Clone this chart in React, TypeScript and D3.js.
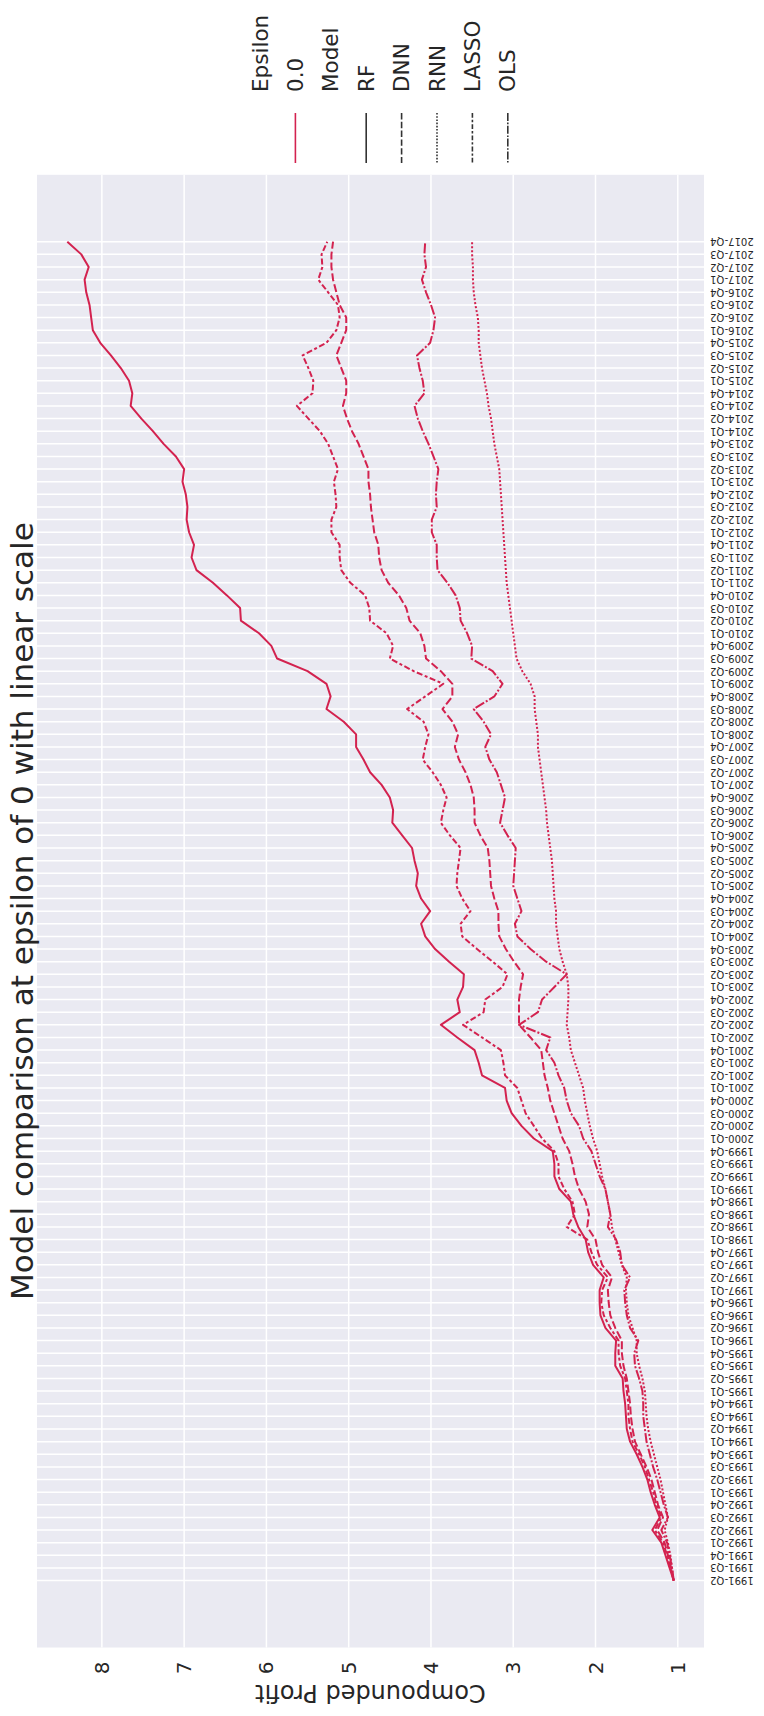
import * as d3 from "d3";

// quarters 1991-Q2 .. 2017-Q4
const years = d3.range(1991, 2018);
const qNames = ["Q1", "Q2", "Q3", "Q4"];
const quarters: string[] = years.flatMap((y) => qNames.map((q) => `${y}-${q}`)).slice(1);

const valueTicks = [1, 2, 3, 4, 5, 6, 7, 8];

const rf = [
  1.05, 1.1, 1.15, 1.2, 1.31, 1.22, 1.28, 1.33, 1.37, 1.43, 1.5, 1.58, 1.62, 1.63, 1.64, 1.66, 1.67, 1.76, 1.76, 1.75,
  1.88, 1.94, 1.95, 1.95, 1.9, 2.03, 2.09, 2.12, 2.21, 2.27, 2.3, 2.44, 2.5, 2.5, 2.52, 2.75, 2.9, 3.02, 3.08, 3.1,
  3.38, 3.42, 3.47, 3.68, 3.88, 3.65, 3.68, 3.61, 3.6, 3.78, 3.95, 4.07, 4.12, 4.01, 4.12, 4.18, 4.16, 4.2, 4.23, 4.35,
  4.47, 4.46, 4.5, 4.6, 4.74, 4.82, 4.91, 4.91, 5.06, 5.27, 5.22, 5.27, 5.5, 5.87, 5.94, 6.09, 6.31, 6.32, 6.48, 6.65,
  6.85, 6.91, 6.88, 6.94, 6.97, 6.96, 6.98, 7.02, 7.0, 7.1, 7.25, 7.38, 7.52, 7.65, 7.63, 7.67, 7.77, 7.89, 8.02, 8.11,
  8.13, 8.15, 8.19, 8.21, 8.16, 8.25, 8.42,
];
const dnn = [
  1.05, 1.08, 1.12, 1.16, 1.25, 1.18, 1.24, 1.28, 1.32, 1.38, 1.45, 1.52, 1.55, 1.57, 1.58, 1.6, 1.62, 1.66, 1.68, 1.68,
  1.76, 1.82, 1.84, 1.85, 1.8, 1.92, 1.97, 2.0, 2.1, 2.08, 2.12, 2.2, 2.25, 2.28, 2.32, 2.4, 2.45, 2.5, 2.55, 2.58,
  2.62, 2.64, 2.66, 2.79, 2.93, 2.93, 2.93, 2.91, 2.88, 2.99, 3.09, 3.17, 3.18, 3.18, 3.23, 3.27, 3.28, 3.29, 3.31, 3.4,
  3.47, 3.47, 3.48, 3.52, 3.58, 3.66, 3.71, 3.67, 3.74, 3.86, 3.74, 3.74, 3.88, 4.06, 4.08, 4.13, 4.26, 4.3, 4.39, 4.52,
  4.6, 4.63, 4.64, 4.69, 4.71, 4.73, 4.74, 4.76, 4.76, 4.82, 4.88, 4.96, 5.02, 5.07, 5.03, 5.03, 5.09, 5.15, 5.09, 5.03,
  5.03, 5.11, 5.15, 5.19, 5.21, 5.21, 5.19,
];
const rnn = [
  1.05, 1.07, 1.09, 1.12, 1.16, 1.12, 1.15, 1.18, 1.21, 1.25, 1.29, 1.33, 1.36, 1.38, 1.39, 1.4, 1.43, 1.47, 1.5, 1.5,
  1.55, 1.6, 1.62, 1.63, 1.62, 1.68, 1.72, 1.76, 1.8, 1.82, 1.85, 1.88, 1.92, 1.95, 1.98, 2.03, 2.07, 2.1, 2.13, 2.15,
  2.2, 2.25, 2.3, 2.32, 2.35, 2.34, 2.33, 2.33, 2.35, 2.4, 2.44, 2.46, 2.48, 2.48, 2.5, 2.51, 2.52, 2.53, 2.55, 2.57,
  2.59, 2.6, 2.62, 2.64, 2.66, 2.68, 2.7, 2.7, 2.72, 2.74, 2.74, 2.79, 2.89, 2.96, 2.98, 3.0, 3.02, 3.04, 3.06, 3.08,
  3.09, 3.1, 3.11, 3.12, 3.13, 3.14, 3.15, 3.16, 3.17, 3.2, 3.23, 3.25, 3.27, 3.3, 3.32, 3.35, 3.38, 3.4, 3.42, 3.42,
  3.43, 3.46, 3.48, 3.49, 3.49, 3.5, 3.5,
];
const lasso = [
  1.05, 1.09, 1.13, 1.18, 1.28, 1.2, 1.26, 1.3, 1.35, 1.4, 1.47, 1.55, 1.58, 1.6, 1.6, 1.62, 1.64, 1.7, 1.72, 1.72,
  1.82, 1.9, 1.93, 1.92, 1.85, 1.98, 2.05, 2.1, 2.35, 2.25, 2.28, 2.38, 2.45, 2.45, 2.5, 2.65, 2.75, 2.85, 2.9, 2.95,
  3.1, 3.12, 3.15, 3.38, 3.61, 3.36, 3.34, 3.13, 3.07, 3.25, 3.44, 3.62, 3.64, 3.52, 3.62, 3.69, 3.68, 3.66, 3.64, 3.77,
  3.88, 3.85, 3.81, 3.88, 3.98, 4.1, 4.07, 4.03, 4.09, 4.29, 4.07, 3.85, 4.21, 4.5, 4.46, 4.54, 4.74, 4.75, 4.8, 4.98,
  5.09, 5.11, 5.11, 5.21, 5.21, 5.15, 5.16, 5.18, 5.13, 5.19, 5.25, 5.35, 5.49, 5.63, 5.44, 5.43, 5.49, 5.56, 5.27, 5.15,
  5.11, 5.13, 5.25, 5.37, 5.32, 5.33, 5.26,
];
const ols = [
  1.05, 1.07, 1.1, 1.13, 1.2, 1.12, 1.17, 1.21, 1.25, 1.3, 1.34, 1.38, 1.4, 1.42, 1.42, 1.43, 1.47, 1.52, 1.53, 1.48,
  1.58, 1.62, 1.64, 1.65, 1.58, 1.68, 1.7, 1.75, 1.85, 1.82, 1.85, 1.88, 1.95, 2.0, 2.05, 2.15, 2.2, 2.3, 2.35, 2.38,
  2.45, 2.5, 2.6, 2.55, 2.93, 2.7, 2.65, 2.5, 2.35, 2.6, 2.79, 2.95, 2.98, 2.9, 2.95, 3.0, 2.99, 2.98, 2.97, 3.07,
  3.16, 3.13, 3.1, 3.15, 3.2, 3.29, 3.34, 3.27, 3.36, 3.48, 3.23, 3.13, 3.25, 3.51, 3.5, 3.56, 3.64, 3.65, 3.7, 3.8,
  3.92, 3.93, 3.93, 3.99, 3.99, 3.93, 3.94, 3.93, 3.91, 3.97, 4.03, 4.1, 4.16, 4.2, 4.08, 4.1, 4.14, 4.17, 4.01, 3.97,
  3.95, 4.0, 4.06, 4.11, 4.06, 4.08, 4.07,
];

const modelNames = ["RF", "DNN", "RNN", "LASSO", "OLS"];
const modelSeries = [rf, dnn, rnn, lasso, ols];
// seaborn dash units, multiplied by line width
const modelDashUnits = [[], [4, 1.5], [1, 1], [3, 1.25, 1.5, 1.25], [5, 1, 1, 1]];
const dash = (k: number, lw: number) => modelDashUnits[k].map((d) => d * lw).join(",") || undefined;

const W = 764;
const H = 1716;
const red = "#d3224f";
const textColor = "#262626";
const font = "DejaVu Sans, sans-serif";

const plot = { left: 37, right: 704, top: 174.8, bottom: 1647.5 };

export default function App() {
  const allVals = modelSeries.flat();
  const vMin = d3.min(allVals) as number;
  const vMax = d3.max(allVals) as number;
  const pad = (vMax - vMin) * 0.05;
  // value axis runs right-to-left (chart is turned on its side)
  const x = d3.scaleLinear().domain([vMin - pad, vMax + pad]).range([plot.right, plot.left]);
  const n = quarters.length - 1;
  const y = d3.scaleLinear().domain([-n * 0.05, n * 1.05]).range([plot.bottom, plot.top]);

  const line = d3
    .line<number>()
    .x((d) => x(d))
    .y((_, i) => y(i));

  const legendItems = [
    { label: "Epsilon", header: true, color: "", k: -1 },
    { label: "0.0", header: false, color: red, k: 0 },
    { label: "Model", header: true, color: "", k: -1 },
    ...modelNames.map((m, i) => ({ label: m, header: false, color: "#333333", k: i })),
  ];

  return (
    <svg
      width={W}
      height={H}
      style={{ position: "absolute", left: 0, top: 0, background: "#fff" }}
      fontFamily={font}
    >
      <rect
        x={plot.left}
        y={plot.top}
        width={plot.right - plot.left}
        height={plot.bottom - plot.top}
        fill="#eaeaf2"
      />
      {valueTicks.map((t) => (
        <line key={t} x1={x(t)} x2={x(t)} y1={plot.top} y2={plot.bottom} stroke="#fff" strokeWidth={1.5} />
      ))}
      {quarters.map((q, i) => (
        <line key={q} x1={plot.left} x2={plot.right} y1={y(i)} y2={y(i)} stroke="#fff" strokeWidth={1.5} />
      ))}

      {modelSeries.map((s, k) => (
        <path
          key={modelNames[k]}
          d={line(s) as string}
          fill="none"
          stroke={red}
          strokeWidth={2}
          strokeDasharray={dash(k, 2)}
          strokeLinejoin="round"
        />
      ))}

      {/* quarter labels, upside down */}
      {quarters.map((q, i) => (
        <text
          key={q}
          transform={`translate(710,${y(i)}) rotate(180)`}
          fontSize={10}
          fill={textColor}
          textAnchor="end"
          dominantBaseline="central"
        >
          {q}
        </text>
      ))}

      {/* value tick labels */}
      {valueTicks.map((t) => (
        <text
          key={t}
          transform={`translate(${x(t)},1668) rotate(-90)`}
          fontSize={20}
          fill={textColor}
          textAnchor="middle"
          dominantBaseline="central"
        >
          {t}
        </text>
      ))}
      <text
        transform={`translate(${(plot.left + plot.right) / 2},1693) rotate(180)`}
        fontSize={24}
        fill={textColor}
        textAnchor="middle"
        dominantBaseline="central"
      >
        Compounded Profit
      </text>

      <text
        transform={`translate(22,${(plot.top + plot.bottom) / 2}) rotate(-90)`}
        fontSize={31}
        fill={textColor}
        textAnchor="middle"
        dominantBaseline="central"
      >
        Model comparison at epsilon of 0 with linear scale
      </text>

      {/* legend */}
      {legendItems.map((it, i) => {
        const cx = 260 + i * 35.4;
        return (
          <g key={it.label}>
            <text
              transform={`translate(${cx},92) rotate(-90)`}
              fontSize={21.5}
              fill={textColor}
              dominantBaseline="central"
            >
              {it.label}
            </text>
            {!it.header && (
              <line
                x1={cx}
                x2={cx}
                y1={113}
                y2={163}
                stroke={it.color}
                strokeWidth={1.6}
                strokeDasharray={it.color === red ? undefined : dash(it.k, 1.6)}
              />
            )}
          </g>
        );
      })}
    </svg>
  );
}
